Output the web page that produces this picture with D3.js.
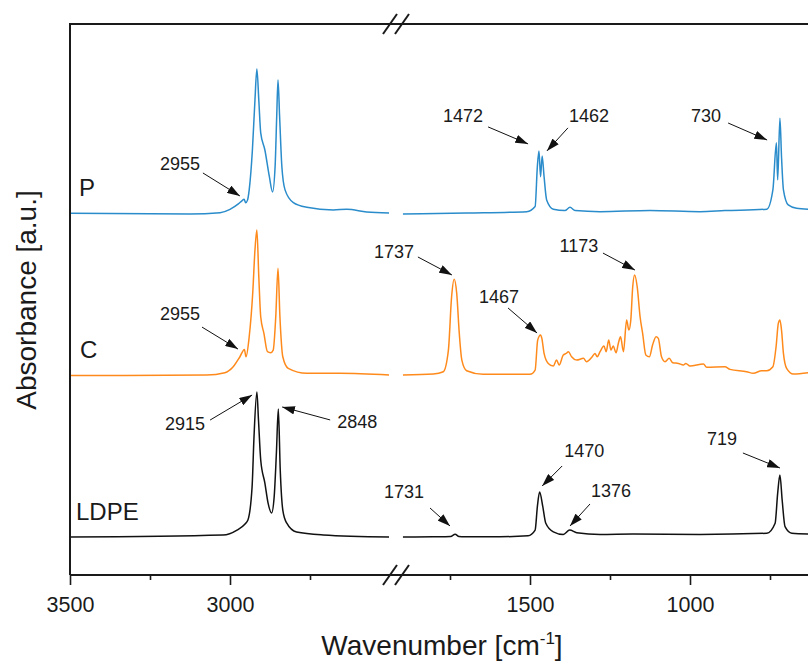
<!DOCTYPE html>
<html>
<head>
<meta charset="utf-8">
<script src="https://cdn.jsdelivr.net/npm/d3@7"></script>
<style>
body { margin: 0; background: #fff; }
svg { display: block; }
text { font-family: "Liberation Sans", Arial, sans-serif; fill: #1a1a1a; }
</style>
</head>
<body>
<div id="chart"></div>
<script>
// FTIR spectra, [wavenumber, absorbance a.u.]
var seriesNames = ["P", "C", "LDPE"];
var seriesColors = ["#2a8ccb", "#ff8a1c", "#111111"];
var seriesOffset = [2.497, 1.379, 0.262];   // vertical stacking of the spectra

var pLeft = [[3500,-0.003],[3125,-0.007],[3031,0.002],[3000,0.025],[2974,0.062],[2962,0.085],[2956,0.095],[2951,0.07],[2945,0.09],[2940,0.159],[2930,0.434],[2922,0.779],[2916,0.993],[2910,0.779],[2904,0.552],[2891,0.434],[2877,0.25],[2867,0.145],[2859,0.322],[2854,0.667],[2850,0.917],[2845,0.667],[2838,0.322],[2828,0.159],[2802,0.071],[2760,0.039],[2677,0.021],[2635,0.025],[2573,0.007],[2503,0]];
var pRight = [[1897,-0.007],[1698,0],[1510,0.009],[1484,0.044],[1477,0.32],[1472,0.428],[1467,0.25],[1462,0.393],[1456,0.25],[1448,0.09],[1427,0.026],[1391,0.016],[1375,0.039],[1359,0.016],[1281,0.009],[1125,0.016],[969,0.009],[891,0.016],[760,0.026],[741,0.159],[730,0.484],[726,0.228],[719,0.653],[714,0.388],[708,0.159],[693,0.055],[667,0.032],[631,0.025]];

var cLeft = [[3500,-0.003],[3073,0],[3016,0.016],[2990,0.057],[2969,0.126],[2955,0.177],[2950,0.126],[2940,0.264],[2929,0.564],[2922,0.862],[2916,1.0],[2910,0.678],[2904,0.402],[2894,0.287],[2883,0.161],[2873,0.154],[2865,0.172],[2857,0.402],[2850,0.736],[2844,0.402],[2835,0.126],[2818,0.046],[2760,0.012],[2656,0.012],[2503,0]];
var cRight = [[1897,0],[1802,0.007],[1771,0.023],[1755,0.172],[1745,0.54],[1737,0.66],[1729,0.563],[1721,0.287],[1713,0.103],[1698,0.03],[1646,0.005],[1500,0.005],[1484,0.034],[1476,0.241],[1467,0.276],[1463,0.253],[1456,0.149],[1443,0.08],[1427,0.062],[1417,0.103],[1409,0.069],[1396,0.138],[1387,0.149],[1380,0.161],[1370,0.126],[1354,0.103],[1333,0.115],[1323,0.092],[1307,0.122],[1297,0.149],[1290,0.126],[1281,0.161],[1269,0.2],[1262,0.161],[1254,0.241],[1247,0.172],[1240,0.2],[1231,0.154],[1224,0.218],[1217,0.264],[1208,0.161],[1198,0.379],[1191,0.31],[1185,0.379],[1179,0.609],[1173,0.69],[1165,0.609],[1156,0.402],[1148,0.287],[1138,0.138],[1127,0.126],[1117,0.207],[1106,0.264],[1099,0.253],[1089,0.126],[1078,0.092],[1065,0.115],[1054,0.085],[1036,0.08],[1021,0.069],[1013,0.08],[1000,0.062],[958,0.076],[948,0.053],[891,0.057],[875,0.039],[823,0.023],[802,0.012],[776,0.03],[760,0.03],[741,0.057],[731,0.195],[724,0.356],[719,0.379],[714,0.31],[708,0.149],[698,0.046],[677,0.007],[631,0.016]];

var ldpeLeft = [[3500,0],[3022,0.014],[2978,0.048],[2953,0.09],[2944,0.117],[2931,0.345],[2925,0.69],[2916,1.0],[2911,0.807],[2904,0.531],[2891,0.372],[2881,0.234],[2870,0.166],[2862,0.276],[2855,0.579],[2849,0.883],[2843,0.462],[2835,0.186],[2823,0.097],[2792,0.034],[2709,0.014],[2503,0]];
var ldpeRight = [[1897,0],[1803,0.002],[1748,0.004],[1734,0.019],[1722,0.003],[1713,0.002],[1594,0.002],[1506,0.009],[1484,0.048],[1477,0.209],[1470,0.31],[1460,0.209],[1451,0.097],[1427,0.036],[1396,0.018],[1376,0.048],[1354,0.03],[1281,0.018],[1178,0.021],[969,0.018],[760,0.026],[734,0.095],[726,0.303],[719,0.428],[712,0.255],[703,0.071],[682,0.026],[631,0.021]];

var spectra = [[pLeft, pRight], [cLeft, cRight], [ldpeLeft, ldpeRight]];

// tick values of the broken x axis
var leftMajor = [3500, 3000], leftMinor = [3250, 2750];
var rightMajor = [1500, 1000], rightMinor = [1750, 1250, 750];

// peak annotations: series index, tip in data units, tail/text offsets in px
var notes = [
  {t:"2955", s:0, w:2969, a:0.117, tx:-37, ty:-23, lx:-60, ly:-26},
  {t:"1472", s:0, w:1506, a:0.476, tx:-40, ty:-17, lx:-65, ly:-22},
  {t:"1462", s:0, w:1447, a:0.428, tx:21, ty:-23, lx:42, ly:-29},
  {t:"730",  s:0, w:759,  a:0.503, tx:-39, ty:-17, lx:-61, ly:-18},
  {t:"2955", s:1, w:2975, a:0.179, tx:-36, ty:-22, lx:-58, ly:-29},
  {t:"1737", s:1, w:1744, a:0.69,  tx:-34, ty:-18, lx:-58, ly:-17},
  {t:"1467", s:1, w:1478, a:0.29,  tx:-29, ty:-25, lx:-38, ly:-30},
  {t:"1173", s:1, w:1172, a:0.724, tx:-32, ty:-17, lx:-56, ly:-18},
  {t:"2915", s:2, w:2931, a:0.979, tx:-42, ty:25, lx:-67, ly:35},
  {t:"2848", s:2, w:2837, a:0.897, tx:48, ty:13, lx:75, ly:21},
  {t:"1731", s:2, w:1750, a:0.076, tx:-20, ty:-18, lx:-46, ly:-28},
  {t:"1470", s:2, w:1462, a:0.352, tx:20, ty:-20, lx:42, ly:-29},
  {t:"1376", s:2, w:1375, a:0.076, tx:20, ty:-22, lx:41, ly:-29},
  {t:"719",  s:2, w:719,  a:0.476, tx:-37, ty:-15, lx:-58, ly:-23}
];

var W = 808, H = 664;
var plotLeft = 70, plotTop = 24, plotBottom = 575;

var svg = d3.select("#chart").append("svg")
  .attr("width", W).attr("height", H);

svg.append("rect").attr("width", W).attr("height", H).attr("fill", "#fff");

var xLeft = d3.scaleLinear().domain([3500, 2500]).range([plotLeft, 390]);
var xRight = d3.scaleLinear().domain([1900, 600]).range([402, 818]);
var y = d3.scaleLinear().domain([0, 3.8]).range([plotBottom, plotTop]);

// spectra
spectra.forEach(function(pair, i) {
  [xLeft, xRight].forEach(function(xs, j) {
    var line = d3.line()
      .x(function(d) { return xs(d[0]); })
      .y(function(d) { return y(d[1] + seriesOffset[i]); })
      .curve(d3.curveMonotoneX);
    svg.append("path")
      .datum(pair[j])
      .attr("d", line)
      .attr("fill", "none")
      .attr("stroke", seriesColors[i])
      .attr("stroke-width", 1.5)
      .attr("stroke-linejoin", "round");
  });
});

// frame
var frame = svg.append("g").attr("stroke", "#1a1a1a").attr("stroke-width", 2).attr("fill", "none");
frame.append("path").attr("d", "M" + plotLeft + "," + plotBottom + "V" + plotTop + "H" + W);
frame.append("path").attr("d", "M" + plotLeft + "," + plotBottom + "H" + W);

// break marks
[plotTop, plotBottom].forEach(function(yy) {
  [390, 402].forEach(function(xx) {
    svg.append("line")
      .attr("x1", xx - 7).attr("y1", yy + 10)
      .attr("x2", xx + 7).attr("y2", yy - 10)
      .attr("stroke", "#1a1a1a").attr("stroke-width", 2);
  });
});

// axes
function addAxis(scale, major, minor) {
  var g = svg.append("g").attr("transform", "translate(0," + plotBottom + ")")
    .call(d3.axisBottom(scale).tickValues(major).tickSize(10).tickPadding(12).tickFormat(d3.format("d")));
  g.select(".domain").remove();
  g.selectAll("line").attr("stroke", "#1a1a1a").attr("stroke-width", 1.6);
  g.selectAll("text").style("font-size", "21.5px").attr("fill", "#1a1a1a")
    .style("font-family", "'Liberation Sans', Arial, sans-serif");
  var m = svg.append("g").attr("transform", "translate(0," + plotBottom + ")")
    .call(d3.axisBottom(scale).tickValues(minor).tickSize(5).tickFormat(""));
  m.select(".domain").remove();
  m.selectAll("line").attr("stroke", "#1a1a1a").attr("stroke-width", 1.6);
}
addAxis(xLeft, leftMajor, leftMinor);
addAxis(xRight, rightMajor, rightMinor);

// axis titles
var xt = svg.append("text").attr("x", 442).attr("y", 655)
  .attr("text-anchor", "middle").style("font-size", "28px");
xt.append("tspan").text("Wavenumber [cm");
xt.append("tspan").attr("dy", -11).style("font-size", "17px").text("-1");
xt.append("tspan").attr("dy", 11).text("]");

svg.append("text")
  .attr("transform", "translate(36,300) rotate(-90)")
  .attr("text-anchor", "middle").style("font-size", "28px")
  .text("Absorbance [a.u.]");

// series names
var nameX = [79, 80, 76];
seriesNames.forEach(function(n, i) {
  svg.append("text")
    .attr("x", nameX[i])
    .attr("y", y(seriesOffset[i]) - 17)
    .style("font-size", "24px")
    .text(n);
});

// arrows
svg.append("defs").append("marker")
  .attr("id", "head").attr("markerUnits", "userSpaceOnUse")
  .attr("viewBox", "0 0 12 8").attr("refX", 12).attr("refY", 4)
  .attr("markerWidth", 13).attr("markerHeight", 8.5).attr("orient", "auto")
  .append("path").attr("d", "M0,0L12,4L0,8Z").attr("fill", "#111");

notes.forEach(function(d) {
  var xs = d.w > 2000 ? xLeft : xRight;
  var px = xs(d.w), py = y(d.a + seriesOffset[d.s]);
  svg.append("line")
    .attr("x1", px + d.tx).attr("y1", py + d.ty)
    .attr("x2", px).attr("y2", py)
    .attr("stroke", "#111").attr("stroke-width", 1)
    .attr("marker-end", "url(#head)");
  svg.append("text")
    .attr("x", px + d.lx).attr("y", py + d.ly)
    .attr("text-anchor", "middle")
    .style("font-size", "18px")
    .text(d.t);
});
</script>
</body>
</html>
